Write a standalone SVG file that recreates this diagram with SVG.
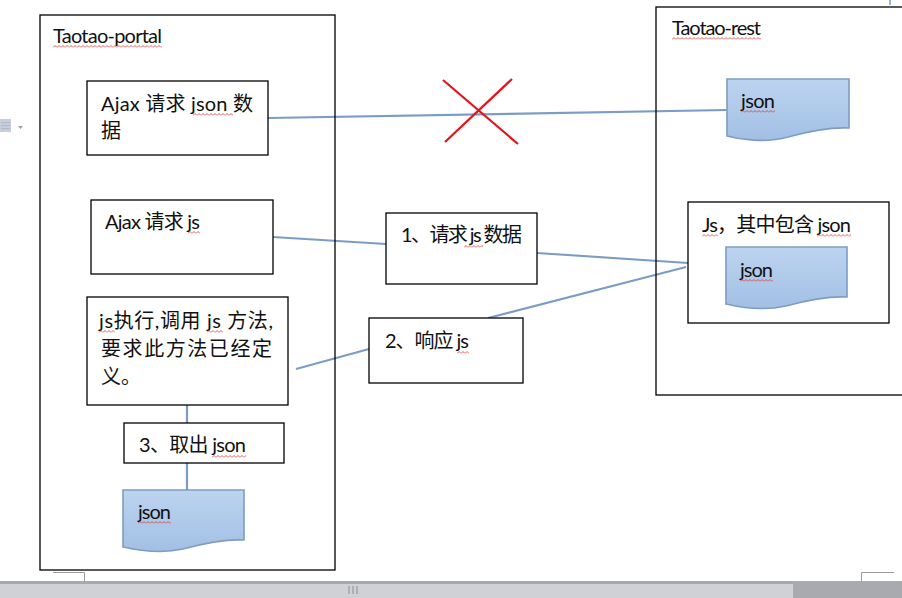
<svg xmlns="http://www.w3.org/2000/svg" width="902" height="598" viewBox="0 0 902 598">
<style>
.box{fill:#fff;stroke:#000;stroke-width:1.3}
.frame{fill:none;stroke:#000;stroke-width:1.3}
.t{font-family:Lato,"Noto Sans CJK SC",sans-serif;font-size:20px;fill:#111}
.conn{stroke:#7b9cc5;stroke-width:2.2;fill:none}
.doc{fill:url(#docg);stroke:#7e9cc4;stroke-width:1.6}
.x{stroke:#e5121a;stroke-width:2.2}
.ui{stroke:#9a9a9a;stroke-width:1;fill:none}
</style>
<defs>
<linearGradient id="docg" x1="0" y1="0" x2="0" y2="1">
<stop offset="0" stop-color="#bdd4f0"/>
<stop offset="1" stop-color="#a2bfe4"/>
</linearGradient>
<pattern id="wave" width="4" height="3" patternUnits="userSpaceOnUse">
<path d="M0,2.5 L2,0.5 L4,2.5" stroke="#e0302a" stroke-width="0.8" fill="none"/>
</pattern>
</defs>
<rect width="902" height="598" fill="#fff"/>

<!-- window UI -->
<g id="ui">
<rect x="0" y="581" width="902" height="17" fill="#d0d1d6"/>
<rect x="0" y="581" width="902" height="3" fill="#a8a9ae"/>
<rect x="793" y="581" width="109" height="17" fill="#a9aab0"/>
<path d="M349,586 V594 M353,586 V594 M357,586 V594" stroke="#8d8d92" stroke-width="1"/>
<path class="ui" d="M53,572.5 H84.5 V581"/>
<path class="ui" d="M894,572.5 H861.5 V581"/>
<path d="M890,0 V5" stroke="#7a9cc6" stroke-width="1.5"/>
<g fill="#b3bccb">
<rect x="0" y="119" width="11" height="13" fill="#c7cfdc"/>
<rect x="1" y="122" width="9" height="1.2"/>
<rect x="1" y="125" width="9" height="1.2"/>
<rect x="1" y="128" width="9" height="1.2"/>
<path d="M18,126 H23 L20.5,129 Z" fill="#a0a0a0"/>
</g>
</g>

<!-- connectors -->
<g id="connectors">
<line class="conn" x1="268" y1="118" x2="727" y2="110"/>
<line class="conn" x1="273" y1="237" x2="386" y2="244"/>
<line class="conn" x1="537" y1="253" x2="688" y2="263"/>
<line class="conn" x1="686" y1="267" x2="488" y2="318"/>
<line class="conn" x1="369" y1="349" x2="296" y2="369"/>
<line class="conn" x1="187" y1="405" x2="187" y2="423"/>
<line class="conn" x1="187" y1="463" x2="187" y2="490"/>
<g id="cross">
<line class="x" x1="443" y1="80" x2="518" y2="144"/>
<line class="x" x1="512" y1="79" x2="445" y2="142"/>
</g>
</g>

<!-- containers -->
<g id="taotao-portal">
<rect class="frame" x="40" y="15" width="295" height="555"/>
<text class="t" x="53" y="43" textLength="109">Taotao-portal</text>
<g transform="translate(53,45)"><rect width="109" height="3" fill="url(#wave)"/></g>
</g>
<g id="taotao-rest">
<rect class="frame" x="656" y="7" width="260" height="388"/>
<text class="t" x="672" y="35" textLength="89">Taotao-rest</text>
<g transform="translate(672,37)"><rect width="89" height="3" fill="url(#wave)"/></g>
</g>

<!-- portal nodes -->
<g id="ajax-json">
<rect class="box" x="87" y="81" width="181" height="74"/>
<text class="t" x="101" y="111" textLength="152">Ajax 请求 json 数</text>
<text class="t" x="101" y="138">据</text>
<g transform="translate(193,113)"><rect width="40" height="3" fill="url(#wave)"/></g>
</g>
<g id="ajax-js">
<rect class="box" x="91" y="200" width="182" height="74"/>
<text class="t" x="105" y="229" textLength="95">Ajax 请求 js</text>
<g transform="translate(188,231)"><rect width="12" height="3" fill="url(#wave)"/></g>
</g>
<g id="js-exec">
<rect class="box" x="87" y="297" width="201" height="108"/>
<text class="t" x="99" y="328" textLength="174">js执行,调用 js 方法,</text>
<text class="t" x="101" y="356" textLength="171">要求此方法已经定</text>
<text class="t" x="101" y="384">义。</text>
<g transform="translate(99,330)"><rect width="16" height="3" fill="url(#wave)"/></g>
<g transform="translate(207,330)"><rect width="16" height="3" fill="url(#wave)"/></g>
</g>
<g id="step3">
<rect class="box" x="124" y="423" width="160" height="40"/>
<text class="t" x="139" y="452" textLength="107">3、取出 json</text>
<g transform="translate(212,455)"><rect width="34" height="3" fill="url(#wave)"/></g>
</g>
<g id="json-portal">
<path class="doc" d="M123,490 H244 V540 C224,539 205,543 183,549 C165,553 145,552 123,547 Z"/>
<text class="t" x="138" y="519" textLength="33">json</text>
<g transform="translate(138,521)"><rect width="33" height="3" fill="url(#wave)"/></g>
</g>

<!-- middle labels -->
<g id="step1">
<rect class="box" x="386" y="213" width="151" height="71"/>
<text class="t" x="401" y="242" textLength="121">1、请求 js 数据</text>
<g transform="translate(464,245)"><rect width="19" height="3" fill="url(#wave)"/></g>
</g>
<g id="step2">
<rect class="box" x="369" y="318" width="154" height="65"/>
<text class="t" x="385" y="348" textLength="84">2、响应 js</text>
<g transform="translate(457,351)"><rect width="12" height="3" fill="url(#wave)"/></g>
</g>

<!-- rest nodes -->
<g id="json-rest">
<path class="doc" d="M727,79 H849 V128 C829,127 810,131 788,137 C770,142 748,141 727,136 Z"/>
<text class="t" x="741" y="108" textLength="34">json</text>
<g transform="translate(741,110)"><rect width="34" height="3" fill="url(#wave)"/></g>
</g>
<g id="js-box">
<rect class="box" x="688" y="202" width="201" height="121"/>
<text class="t" x="702" y="232" textLength="149">Js，其中包含 json</text>
<g transform="translate(702,234)"><rect width="16" height="3" fill="url(#wave)"/></g>
<g transform="translate(817,234)"><rect width="34" height="3" fill="url(#wave)"/></g>
</g>
<g id="json-inner">
<path class="doc" d="M726,247 H847 V297 C827,296 808,300 786,306 C768,310 747,309 726,304 Z"/>
<text class="t" x="740" y="277" textLength="33">json</text>
<g transform="translate(740,279)"><rect width="33" height="3" fill="url(#wave)"/></g>
</g>
</svg>
